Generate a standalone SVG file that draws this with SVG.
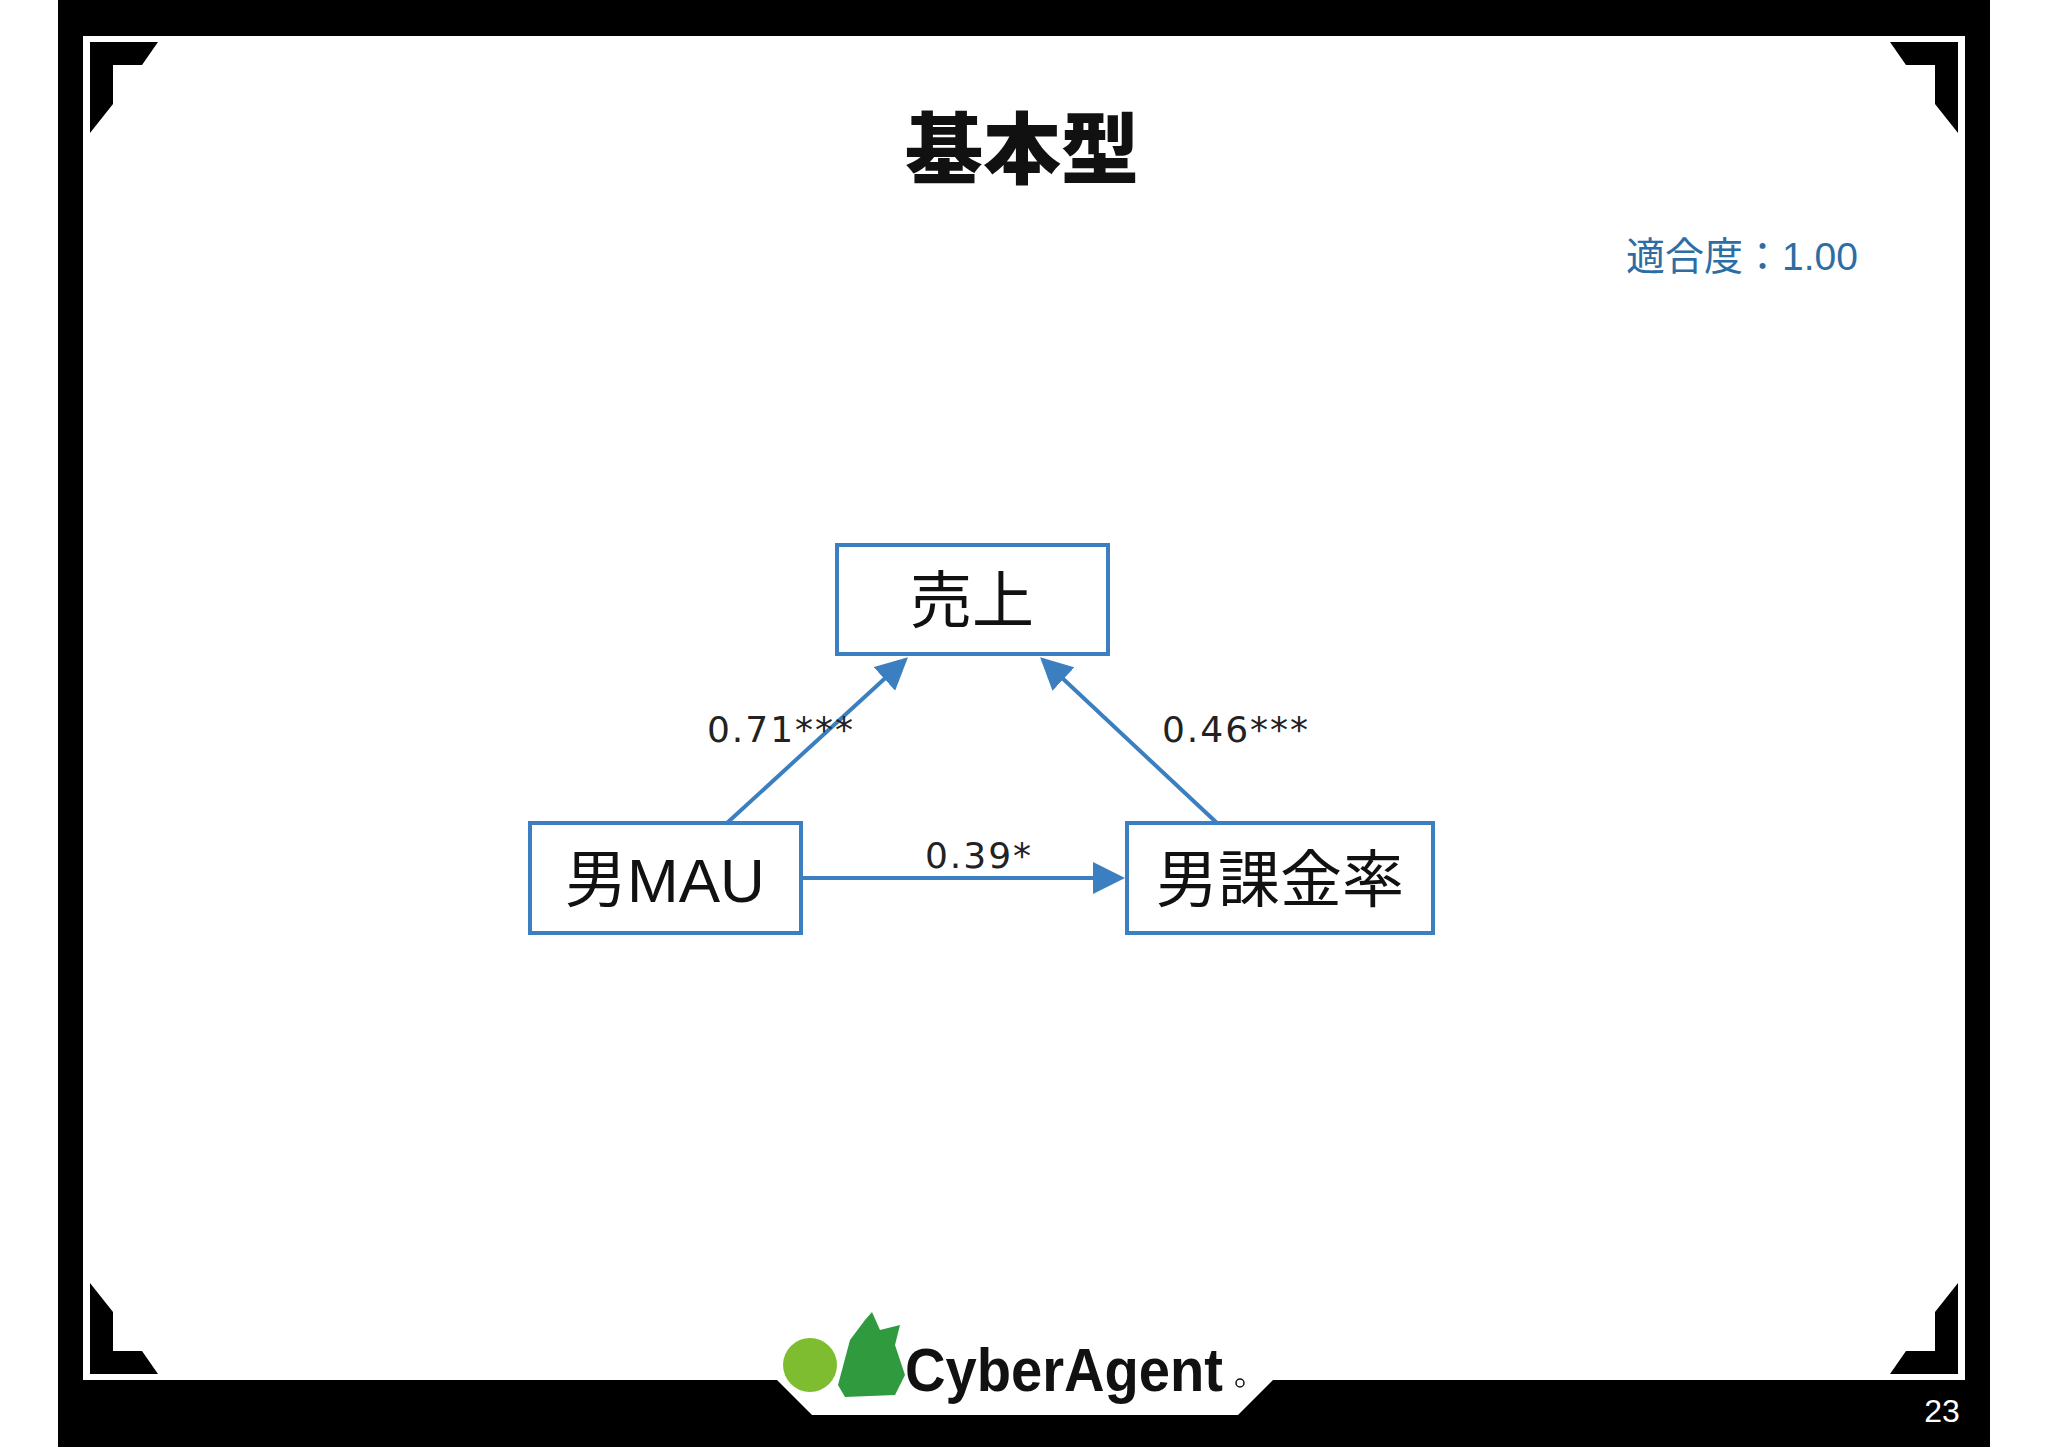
<svg xmlns="http://www.w3.org/2000/svg" width="2048" height="1447" viewBox="0 0 2048 1447">
<style>
.box{fill:#fff;stroke:#3b7fc1;stroke-width:4}
.nt{font-family:"Liberation Sans","Noto Sans CJK JP",sans-serif;font-size:62px;fill:#111;text-anchor:middle}
.lb{font-family:"DejaVu Sans","Noto Sans CJK JP",sans-serif;font-size:36px;fill:#222;text-anchor:middle;letter-spacing:2px}
.cn{stroke:#3b7fc1;stroke-width:4;fill:none;marker-end:url(#ah)}
</style>
<defs>
<marker id="ah" markerWidth="8" markerHeight="8" refX="7" refY="4" orient="auto" markerUnits="strokeWidth"><path d="M0,0 L8,4 L0,8 Z" fill="#3b7fc1"/></marker>
</defs>
<rect width="2048" height="1447" fill="#fff"/>
<g id="frame">
<rect x="58" y="0" width="1932" height="36" fill="#000"/>
<rect x="58" y="0" width="25" height="1447" fill="#000"/>
<rect x="1965" y="0" width="25" height="1447" fill="#000"/>
<rect x="58" y="1380" width="1932" height="67" fill="#000"/>
<polygon points="777,1380 1273,1380 1238,1415 812,1415" fill="#fff"/>
<polygon points="90,42 158,42 142,65 113,65 113,104 90,133" fill="#000"/>
<polygon points="1958,42 1890,42 1906,65 1935,65 1935,104 1958,133" fill="#000"/>
<polygon points="90,1374 158,1374 142,1351 113,1351 113,1312 90,1283" fill="#000"/>
<polygon points="1958,1374 1890,1374 1906,1351 1935,1351 1935,1312 1958,1283" fill="#000"/>
<text x="1942" y="1422" font-family="Liberation Sans,sans-serif" font-size="32" fill="#fff" text-anchor="middle">23</text>
</g>
<g id="logo">
<circle cx="810" cy="1365" r="27" fill="#7dbd2f"/>
<path d="M838,1385 L850,1340 L865,1320 L872,1312 L880,1330 L900,1325 L895,1345 L905,1375 L895,1395 L845,1397 Z" fill="#2f9a3e"/>
<text x="905" y="1391" font-family="Liberation Sans,sans-serif" font-weight="bold" font-size="62" fill="#111" textLength="318" lengthAdjust="spacingAndGlyphs">CyberAgent</text>
<circle cx="1240" cy="1383" r="4" fill="none" stroke="#111" stroke-width="1.5"/>
</g>
<text x="1022" y="178" font-family="Noto Sans CJK JP,sans-serif" font-weight="900" font-size="78" text-anchor="middle" fill="#111">基本型</text>
<text x="1742" y="270" font-family="Liberation Sans,Noto Sans CJK JP,sans-serif" font-size="39" text-anchor="middle" fill="#2e6da4">適合度：1.00</text>
<g id="connectors">
<line class="cn" x1="727" y1="823" x2="905" y2="660"/>
<line class="cn" x1="1217" y1="823" x2="1043" y2="660"/>
<line class="cn" x1="801" y1="878" x2="1121" y2="878"/>
<text class="lb" x="781" y="742">0.71***</text>
<text class="lb" x="1236" y="742">0.46***</text>
<text class="lb" x="979" y="868">0.39*</text>
</g>
<g id="n_sales"><rect class="box" x="837" y="545" width="271" height="109"/><text class="nt" x="972" y="623">売上</text></g>
<g id="n_mau"><rect class="box" x="530" y="823" width="271" height="110"/><text class="nt" x="665" y="902">男MAU</text></g>
<g id="n_rate"><rect class="box" x="1127" y="823" width="306" height="110"/><text class="nt" x="1280" y="902">男課金率</text></g>
</svg>
